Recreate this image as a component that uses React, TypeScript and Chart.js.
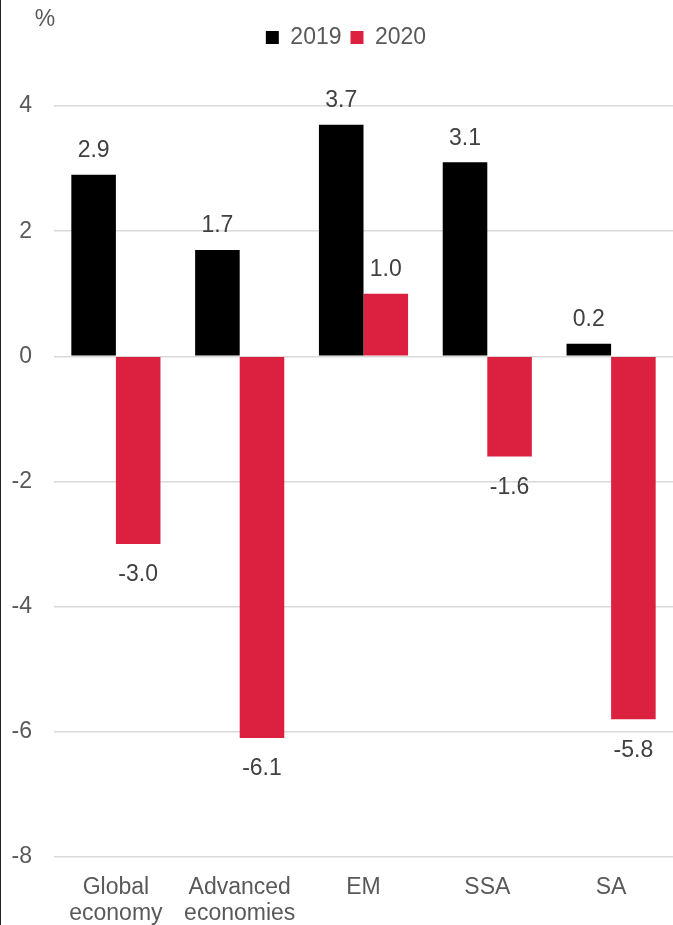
import React, { useEffect, useRef } from "react";
import { Chart, registerables } from "chart.js";

Chart.register(...registerables);

const categories: (string | string[])[] = [["Global", "economy"], ["Advanced", "economies"], "EM", "SSA", "SA"];
const series2019 = [2.9, 1.7, 3.7, 3.1, 0.2];
const series2020 = [-3.0, -6.1, 1.0, -1.6, -5.8];
const seriesNames = ["2019", "2020"];
const yTicks = [4, 2, 0, -2, -4, -6, -8];

const FONT = "'Liberation Sans', Arial, sans-serif";
const FS = 23;

const legendSpacer = {
  id: "legendSpacer",
  beforeInit(chart: any) {
    const lg = chart.legend;
    const origFit = lg.fit;
    lg.fit = function () {
      origFit.bind(lg)();
      this.height += 47;
    };
    const origDraw = lg.draw;
    lg.draw = function () {
      this.left += 18;
      origDraw.bind(lg)();
      this.left -= 18;
    };
  },
};

const labelPlugin = {
  id: "valueLabels",
  afterDatasetsDraw(chart: any) {
    const ctx = chart.ctx;
    ctx.save();
    ctx.font = `${FS}px ${FONT}`;
    ctx.fillStyle = "#404040";
    ctx.textAlign = "center";
    ctx.textBaseline = "middle";
    chart.data.datasets.forEach((ds: any, di: number) => {
      const meta = chart.getDatasetMeta(di);
      meta.data.forEach((bar: any, i: number) => {
        const v = ds.data[i];
        const y = v >= 0 ? bar.y - 24 : bar.y + 31;
        ctx.fillText(v.toFixed(1), bar.x, y);
      });
    });
    ctx.fillStyle = "#595959";
    ctx.fillText("%", 44, 20);
    ctx.restore();
  },
};

export default function App() {
  const ref = useRef<HTMLCanvasElement>(null);
  useEffect(() => {
    document.body.style.margin = "0";
    const chart = new Chart(ref.current!, {
      type: "bar",
      data: {
        labels: categories,
        datasets: [
          { label: seriesNames[0], data: series2019, backgroundColor: "#000000", barPercentage: 1, categoryPercentage: 0.72 },
          { label: seriesNames[1], data: series2020, backgroundColor: "#DC203F", barPercentage: 1, categoryPercentage: 0.72 },
        ],
      },
      options: {
        animation: false,
        responsive: false,
        maintainAspectRatio: false,
        layout: { padding: { top: 17, right: 0, left: 0, bottom: 0 } },
        plugins: {
          legend: {
            display: true,
            position: "top",
            labels: {
              boxWidth: 13,
              boxHeight: 13,
              padding: 9,
              color: "#595959",
              font: { family: FONT, size: FS },
            },
          },
          tooltip: { enabled: false },
        },
        scales: {
          x: {
            grid: { display: false, drawTicks: false },
            border: { display: false },
            ticks: { color: "#595959", font: { family: FONT, size: FS, lineHeight: 1.15 }, padding: 17, maxRotation: 0, autoSkip: false },
            afterFit: (s: any) => { s.height = 68; },
          },
          y: {
            min: -8,
            max: 4,
            afterBuildTicks: (s: any) => { s.ticks = yTicks.map((v) => ({ value: v })); },
            grid: { color: "#D9D9D9", lineWidth: 1.5, drawTicks: false },
            border: { display: false },
            ticks: { color: "#595959", font: { family: FONT, size: FS }, padding: 22 },
            afterFit: (s: any) => { s.width = 53; },
          },
        },
      },
      plugins: [legendSpacer, labelPlugin],
    });
    return () => chart.destroy();
  }, []);
  return (
    <div style={{ width: 673, height: 925, borderLeft: "1px solid #222", boxSizing: "border-box" }}>
      <canvas ref={ref} width={672} height={925} style={{ display: "block" }} />
    </div>
  );
}
